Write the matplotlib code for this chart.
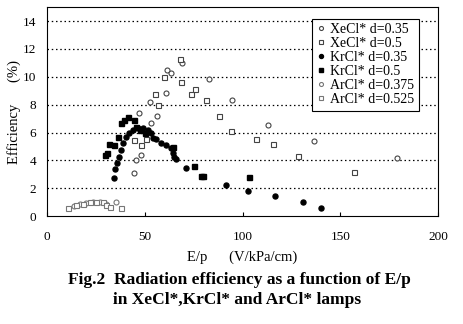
import matplotlib.pyplot as plt

plt.rcParams["font.family"] = ["Liberation Serif", "DejaVu Serif"]

# XeCl* d=0.35 (open circles)
xecl35_x = [69.0, 61.6, 63.4, 60.8, 52.6, 82.9, 94.5, 56.0, 53.2, 47.2, 48.0, 45.5, 44.3, 113.2, 136.5, 179.0]
xecl35_y = [11.0, 10.5, 10.3, 8.85, 8.2, 9.86, 8.33, 7.2, 6.65, 7.37, 4.38, 4.0, 3.13, 6.53, 5.38, 4.2]

# XeCl* d=0.5 (open squares)
xecl5_x = [68.0, 60.0, 68.5, 55.4, 56.7, 73.6, 75.8, 81.2, 87.7, 94.0, 44.6, 50.6, 48.0, 106.7, 115.6, 128.5, 156.9]
xecl5_y = [11.3, 9.96, 9.6, 8.74, 8.0, 8.76, 9.1, 8.33, 7.18, 6.12, 5.45, 5.57, 5.1, 5.57, 5.17, 4.3, 3.16]

# KrCl* d=0.35 (filled circles)
krcl35_x = [34.1, 34.9, 35.6, 36.6, 37.8, 39.0, 40.3, 42.1, 43.8, 46.4, 49.0, 51.5, 53.2, 54.4,
            55.7, 58.3, 60.8, 63.4, 64.3, 65.1, 66.0, 71.3, 91.7, 102.8, 116.6, 131.0, 139.9]
krcl35_y = [2.7, 3.4, 3.78, 4.26, 4.74, 5.22, 5.7, 5.94, 6.17, 6.29, 6.29, 6.17, 5.94, 5.6,
            5.5, 5.22, 5.1, 4.86, 4.5, 4.26, 4.1, 3.47, 2.25, 1.82, 1.46, 0.98, 0.6]

# KrCl* d=0.5 (filled squares)
krcl5_x = [29.8, 30.5, 31.9, 34.4, 36.1, 37.8, 39.5, 41.2, 44.6, 45.5, 47.5, 50.0, 64.3, 75.3, 78.7, 80.0, 103.3]
krcl5_y = [4.38, 4.5, 5.2, 5.1, 5.7, 6.65, 6.9, 7.13, 6.9, 6.4, 6.2, 6.0, 4.98, 3.59, 2.87, 2.87, 2.78]

# ArCl* d=0.375 (open circles)
arcl375_x = [14.0, 17.0, 20.0, 23.5, 27.0, 30.0, 35.3]
arcl375_y = [0.7, 0.85, 0.95, 1.0, 1.0, 0.9, 0.98]

# ArCl* d=0.525 (open squares)
arcl525_x = [10.6, 14.9, 18.4, 21.8, 25.2, 28.6, 30.3, 32.0, 37.8]
arcl525_y = [0.55, 0.79, 0.9, 1.0, 1.0, 1.0, 0.83, 0.62, 0.55]

fig = plt.figure(figsize=(4.63, 3.24), dpi=100)
ax = fig.add_axes([0.1015, 0.333, 0.845, 0.645])

ms = 3.6
ax.plot(xecl35_x, xecl35_y, "o", ms=ms, mfc="white", mec="#444444", mew=0.8, ls="none", label="XeCl* d=0.35")
ax.plot(xecl5_x, xecl5_y, "s", ms=ms, mfc="white", mec="#444444", mew=0.8, ls="none", label="XeCl* d=0.5")
ax.plot(krcl35_x, krcl35_y, "o", ms=ms, mfc="black", mec="black", ls="none", label="KrCl* d=0.35")
ax.plot(krcl5_x, krcl5_y, "s", ms=ms, mfc="black", mec="black", ls="none", label="KrCl* d=0.5")
ax.plot(arcl375_x, arcl375_y, "o", ms=ms, mfc="white", mec="#777777", mew=0.8, ls="none", label="ArCl* d=0.375")
ax.plot(arcl525_x, arcl525_y, "s", ms=ms, mfc="white", mec="#777777", mew=0.8, ls="none", label="ArCl* d=0.525")

ax.set_xlim(0, 200)
ax.set_ylim(0, 15)
ax.set_xticks([0, 50, 100, 150, 200])
ax.set_yticks(range(0, 15, 2))
ax.tick_params(labelsize=9.5, length=3, direction="in")
ax.tick_params(axis="y", length=0, pad=8)
ax.tick_params(axis="x", pad=11)
for y in range(2, 15, 2):
    ax.axhline(y, color="black", lw=0.9, ls=(0, (1.2, 2.2)), zorder=0)

ax.set_xlabel("E/p      (V/kPa/cm)", fontsize=10.5)
ax.xaxis.set_label_coords(0.5, -0.195)
ax.xaxis.label.set_verticalalignment("center")
ax.set_ylabel("Efficiency      (%)", fontsize=10.5, labelpad=1)

leg = ax.legend(loc="upper right", bbox_to_anchor=(0.95, 0.945), fontsize=10,
                frameon=True, fancybox=False, edgecolor="black", framealpha=1,
                handlelength=0.6, handletextpad=0.4, borderpad=0.3, labelspacing=0.08,
                borderaxespad=0, markerscale=0.8)
leg.get_frame().set_linewidth(0.8)

fig.text(0.517, 0.136, "Fig.2  Radiation efficiency as a function of E/p",
         ha="center", va="center", fontsize=12.5, fontweight="bold")
fig.text(0.512, 0.074, "in XeCl*,KrCl* and ArCl* lamps",
         ha="center", va="center", fontsize=12.5, fontweight="bold")

fig.savefig("out.png", dpi=100)
